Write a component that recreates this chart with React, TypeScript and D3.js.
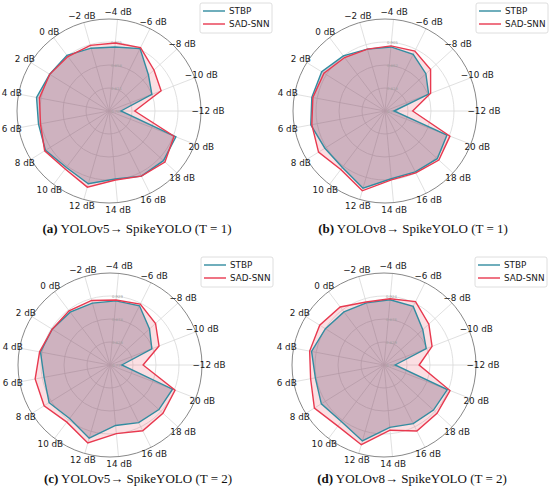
import React from "react";
import * as d3 from "d3";

// categories, counter-clockwise from the 3 o'clock position
const categories = [
  "−12 dB", "−10 dB", "−8 dB", "−6 dB", "−4 dB", "−2 dB", "0 dB", "2 dB", "4 dB",
  "6 dB", "8 dB", "10 dB", "12 dB", "14 dB", "16 dB", "18 dB", "20 dB",
];

const seriesNames = ["STBP", "SAD-SNN"];

// (a) YOLOv5 -> SpikeYOLO, T = 1
const stbpA = [0.789, 0.858, 0.873, 0.906, 0.895, 0.897, 0.906, 0.906, 0.914, 0.91, 0.916, 0.908, 0.918, 0.903, 0.912, 0.914, 0.91];
const sadA = [0.817, 0.878, 0.888, 0.908, 0.903, 0.903, 0.903, 0.906, 0.908, 0.906, 0.918, 0.912, 0.925, 0.905, 0.912, 0.918, 0.906];
const ringsA = ["0.765", "0.811", "0.858", "0.905"];
const domainA = [0.765, 0.951];

// (b) YOLOv8 -> SpikeYOLO, T = 1
const stbpB = [0.792, 0.863, 0.879, 0.894, 0.896, 0.896, 0.905, 0.915, 0.915, 0.917, 0.908, 0.908, 0.926, 0.903, 0.903, 0.908, 0.9];
const sadB = [0.827, 0.867, 0.891, 0.901, 0.898, 0.896, 0.901, 0.91, 0.913, 0.915, 0.922, 0.913, 0.931, 0.905, 0.905, 0.912, 0.906];
const ringsB = ["0.775", "0.818", "0.862", "0.905"];
const domainB = [0.775, 0.948];

// (c) YOLOv5 -> SpikeYOLO, T = 2
const stbpC = [0.803, 0.876, 0.895, 0.923, 0.919, 0.919, 0.923, 0.927, 0.933, 0.925, 0.935, 0.925, 0.945, 0.911, 0.919, 0.923, 0.925];
const sadC = [0.85, 0.893, 0.913, 0.927, 0.921, 0.925, 0.927, 0.927, 0.935, 0.945, 0.948, 0.935, 0.956, 0.929, 0.939, 0.935, 0.931];
const ringsC = ["0.777", "0.828", "0.878", "0.929"];
const domainC = [0.777, 0.98];

// (d) YOLOv8 -> SpikeYOLO, T = 2
const stbpD = [0.804, 0.875, 0.89, 0.917, 0.917, 0.915, 0.919, 0.924, 0.934, 0.926, 0.934, 0.928, 0.945, 0.911, 0.917, 0.92, 0.922];
const sadD = [0.854, 0.888, 0.907, 0.928, 0.919, 0.917, 0.932, 0.938, 0.938, 0.936, 0.951, 0.94, 0.953, 0.917, 0.934, 0.93, 0.928];
const ringsD = ["0.781", "0.829", "0.876", "0.924"];
const domainD = [0.781, 0.972];

const captions = [
  { tag: "(a)", text: " YOLOv5→ SpikeYOLO (T = 1)" },
  { tag: "(b)", text: " YOLOv8→ SpikeYOLO (T = 1)" },
  { tag: "(c)", text: " YOLOv5→ SpikeYOLO (T = 2)" },
  { tag: "(d)", text: " YOLOv8→ SpikeYOLO (T = 2)" },
];

const TEAL = "#328ca0";
const RED = "#e8394f";
const R = 92;
const SANS = "DejaVu Sans, sans-serif";

type RadarProps = {
  cx: number;
  cy: number;
  top: number;
  stbp: number[];
  sad: number[];
  rings: string[];
  domain: number[];
  caption: { tag: string; text: string };
};

const Radar = ({ cx, cy, top, stbp, sad, rings, domain, caption }: RadarProps) => {
  const n = categories.length;
  // math angle, counter-clockwise from east
  const theta = d3.scaleLinear().domain([0, n]).range([0, 2 * Math.PI]);
  const r = d3.scaleLinear().domain(domain).range([0, R]);

  // d3 radial angle is clockwise from 12 o'clock
  const line = d3
    .lineRadial<number>()
    .angle((_, i) => Math.PI / 2 - theta(i))
    .radius((d) => r(d))
    .curve(d3.curveLinearClosed);

  const ringRadii = [0.25, 0.5, 0.75].map((f) => f * R);

  return (
    <g>
      <g transform={`translate(${cx},${cy})`}>
        {/* grid */}
        {categories.map((c, i) => (
          <line
            key={c}
            x1={0}
            y1={0}
            x2={R * Math.cos(theta(i))}
            y2={-R * Math.sin(theta(i))}
            stroke="#d8d8d8"
            strokeWidth={0.8}
          />
        ))}
        {ringRadii.map((rr) => (
          <circle key={rr} r={rr} fill="none" stroke="#d8d8d8" strokeWidth={0.8} />
        ))}
        <circle r={R} fill="none" stroke="#888" strokeWidth={1} />

        {/* fills */}
        <path d={line(sad) || ""} fill={RED} fillOpacity={0.16} stroke="none" />
        <path d={line(stbp) || ""} fill="rgb(85,60,95)" fillOpacity={0.27} stroke="none" />

        {/* ring labels */}
        {rings.map((t, i) => (
          <text
            key={t}
            x={2}
            y={-i * 0.25 * R}
            fontFamily={SANS}
            fontSize={3.8}
            fill="#a0a0a0"
            dominantBaseline="central"
          >
            {t}
          </text>
        ))}

        {/* outlines */}
        <path d={line(stbp) || ""} fill="none" stroke={TEAL} strokeWidth={1.4} strokeLinejoin="miter" />
        <path d={line(sad) || ""} fill="none" stroke={RED} strokeWidth={1.4} strokeLinejoin="miter" />

        {/* category labels */}
        {categories.map((c, i) => (
          <text
            key={c}
            x={(R + 7) * Math.cos(theta(i))}
            y={-(R + 7) * Math.sin(theta(i))}
            textAnchor="middle"
            dominantBaseline="central"
            fontFamily={SANS}
            fontSize={8.8}
            fill="#1a1a1a"
          >
            {c}
          </text>
        ))}

        {/* legend */}
        <g transform={`translate(${91},${-108})`}>
          <rect x={0} y={0} width={72} height={30} rx={2} fill="#fff" fillOpacity={0.8} stroke="#d6d6d6" strokeWidth={0.8} />
          {seriesNames.map((s, i) => (
            <g key={s} transform={`translate(0,${8 + i * 13})`}>
              <line x1={3} x2={25} y1={0} y2={0} stroke={i === 0 ? TEAL : RED} strokeWidth={1.4} />
              <text x={29} y={0} dominantBaseline="central" fontFamily={SANS} fontSize={8.8} fill="#1a1a1a">
                {s}
              </text>
            </g>
          ))}
        </g>
      </g>

      <text
        x={cx + 28}
        y={top + 233}
        textAnchor="middle"
        fontFamily="Liberation Serif, serif"
        fontSize={13}
        fill="#111"
      >
        <tspan fontWeight="bold">{caption.tag}</tspan>
        <tspan>{caption.text}</tspan>
      </text>
    </g>
  );
};

export default function App() {
  return (
    <svg
      width={550}
      height={497}
      style={{ position: "absolute", left: 0, top: 0, background: "#fff" }}
    >
      <rect width={550} height={497} fill="#fff" />
      <Radar cx={109} cy={111} top={0} stbp={stbpA} sad={sadA} rings={ringsA} domain={domainA} caption={captions[0]} />
      <Radar cx={385} cy={111} top={0} stbp={stbpB} sad={sadB} rings={ringsB} domain={domainB} caption={captions[1]} />
      <Radar cx={110} cy={365} top={250} stbp={stbpC} sad={sadC} rings={ringsC} domain={domainC} caption={captions[2]} />
      <Radar cx={384} cy={365} top={250} stbp={stbpD} sad={sadD} rings={ringsD} domain={domainD} caption={captions[3]} />
    </svg>
  );
}
